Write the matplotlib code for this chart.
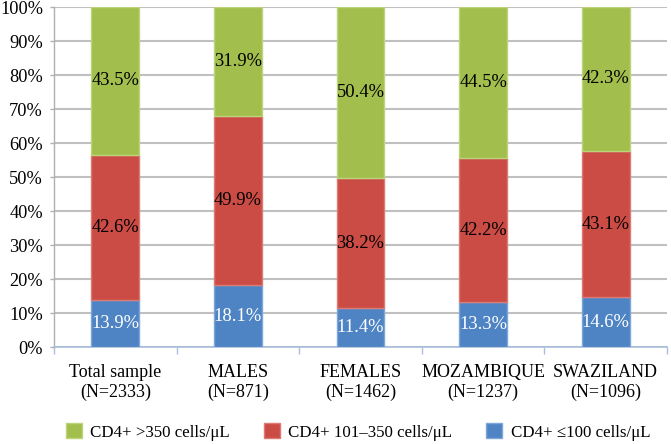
import matplotlib
matplotlib.use("Agg")
import matplotlib.pyplot as plt
import numpy as np

plt.rcParams['font.family'] = ['Liberation Serif', 'DejaVu Serif']

categories = ["Total sample\n(N=2333)", "MALES\n(N=871)", "FEMALES\n(N=1462)",
              "MOZAMBIQUE\n(N=1237)", "SWAZILAND\n(N=1096)"]
low = [13.9, 18.1, 11.4, 13.3, 14.6]
mid = [42.6, 49.9, 38.2, 42.2, 43.1]
high = [43.5, 31.9, 50.4, 44.5, 42.3]
series_names = ["CD4+ >350 cells/\u03bcL", "CD4+ 101\u2013350 cells/\u03bcL", "CD4+ \u2264100 cells/\u03bcL"]
yticks = [0, 10, 20, 30, 40, 50, 60, 70, 80, 90, 100]

c_low, c_mid, c_high = '#4F84C4', '#CA4C45', '#A2BF4E'
e_low, e_mid, e_high = '#7FA6D8', '#DE7A74', '#BDD47A'

fig = plt.figure(figsize=(6.71, 4.44), dpi=100)
ax = fig.add_axes([54/671, 97/444, 613/671, 340/444])

x = np.arange(len(categories))
w = 0.39
b1 = ax.bar(x, low, w, color=c_low, edgecolor=e_low, linewidth=1, zorder=3)
b2 = ax.bar(x, mid, w, bottom=low, color=c_mid, edgecolor=e_mid, linewidth=1, zorder=3)
bot3 = [a + b for a, b in zip(low, mid)]
b3 = ax.bar(x, high, w, bottom=bot3, color=c_high, edgecolor=e_high, linewidth=1, zorder=3)

fs_bar = 13.3
for i in range(len(categories)):
    ax.text(x[i], low[i] / 2, f"{low[i]:.1f}%", ha='center', va='center', color='white', fontsize=fs_bar, zorder=4)
    ax.text(x[i], low[i] + mid[i] / 2, f"{mid[i]:.1f}%", ha='center', va='center', color='black', fontsize=fs_bar, zorder=4)
    ax.text(x[i], bot3[i] + high[i] / 2, f"{high[i]:.1f}%", ha='center', va='center', color='black', fontsize=fs_bar, zorder=4)

ax.set_ylim(0, 100)
ax.set_xlim(-0.5, len(categories) - 0.5)
ax.set_yticks(yticks)
ax.set_yticklabels([f"{t}%" for t in yticks], fontsize=13.2)
ax.yaxis.grid(True, color='#C0C0C0', linewidth=1.5, zorder=0)
ax.set_axisbelow(True)

ax.set_xticks(x)
ax.set_xticklabels(categories, fontsize=13, linespacing=1.25)
ax.tick_params(axis='x', length=0, pad=12)
ax.set_xticks(np.arange(-0.5, len(categories), 1.0), minor=True)
ax.tick_params(axis='x', which='minor', length=5, color='#A9BEDC', width=1)
ax.tick_params(axis='y', length=3, color='#B0B0B0', width=1, pad=5)

for s in ['top', 'right']:
    ax.spines[s].set_visible(False)
ax.spines['left'].set_color('#B0B0B0')
ax.spines['left'].set_linewidth(1)
ax.spines['bottom'].set_color('#A9BEDC')
ax.spines['bottom'].set_linewidth(1.2)

leg = fig.legend([b3, b2, b1], series_names, loc='center', bbox_to_anchor=(358/671, 1 - 432/444),
                 ncol=3, frameon=False, fontsize=12.2, handlelength=0.95, handleheight=0.95,
                 columnspacing=2.0, handletextpad=0.5)

fig.savefig("out.png", dpi=100)
